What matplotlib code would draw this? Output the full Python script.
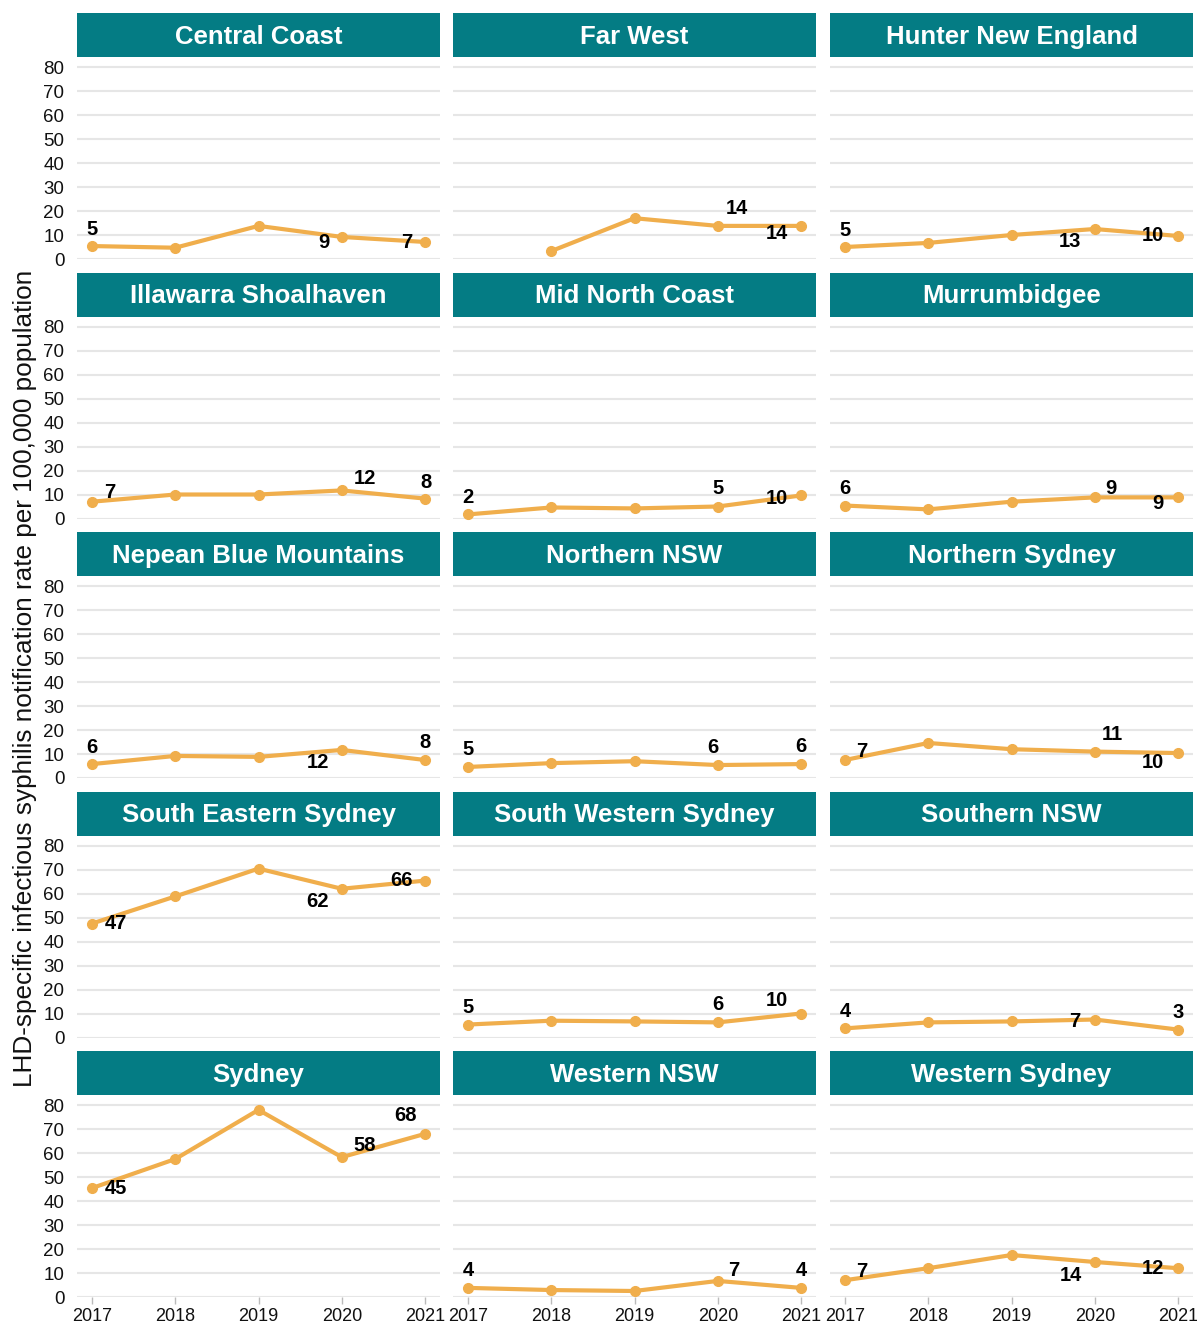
import matplotlib.pyplot as plt
import numpy as np

plt.rcParams['font.family'] = ['Liberation Sans', 'DejaVu Sans']

years = [2017, 2018, 2019, 2020, 2021]

regions = ['Central Coast', 'Far West', 'Hunter New England',
           'Illawarra Shoalhaven', 'Mid North Coast', 'Murrumbidgee',
           'Nepean Blue Mountains', 'Northern NSW', 'Northern Sydney',
           'South Eastern Sydney', 'South Western Sydney', 'Southern NSW',
           'Sydney', 'Western NSW', 'Western Sydney']

central_coast = [5.4, 4.7, 13.8, 9.2, 7.1]
far_west = [np.nan, 3.3, 17.0, 13.8, 13.8]
hunter_new_england = [5.0, 6.7, 10.0, 12.5, 9.6]
illawarra_shoalhaven = [7.0, 10.0, 10.0, 11.7, 8.3]
mid_north_coast = [1.7, 4.6, 4.2, 5.0, 9.6]
murrumbidgee = [5.4, 3.8, 7.0, 8.8, 8.8]
nepean_blue_mountains = [5.8, 9.2, 8.8, 11.7, 7.5]
northern_nsw = [4.6, 6.2, 7.0, 5.4, 5.8]
northern_sydney = [7.5, 14.6, 12.0, 11.0, 10.4]
south_eastern_sydney = [47.5, 58.8, 70.4, 62.0, 65.4]
south_western_sydney = [5.4, 7.0, 6.7, 6.3, 10.0]
southern_nsw = [3.8, 6.3, 6.7, 7.5, 3.3]
sydney = [45.4, 57.5, 78.0, 58.3, 68.0]
western_nsw = [3.8, 2.9, 2.5, 6.7, 3.8]
western_sydney = [7.0, 12.0, 17.5, 14.6, 12.0]

rates = [central_coast, far_west, hunter_new_england,
         illawarra_shoalhaven, mid_north_coast, murrumbidgee,
         nepean_blue_mountains, northern_nsw, northern_sydney,
         south_eastern_sydney, south_western_sydney, southern_nsw,
         sydney, western_nsw, western_sydney]

# value labels shown in the picture: (year, text)
labels = [
    [(2017, '5'), (2020, '9'), (2021, '7')],
    [(2020, '14'), (2021, '14')],
    [(2017, '5'), (2020, '13'), (2021, '10')],
    [(2017, '7'), (2020, '12'), (2021, '8')],
    [(2017, '2'), (2020, '5'), (2021, '10')],
    [(2017, '6'), (2020, '9'), (2021, '9')],
    [(2017, '6'), (2020, '12'), (2021, '8')],
    [(2017, '5'), (2020, '6'), (2021, '6')],
    [(2017, '7'), (2020, '11'), (2021, '10')],
    [(2017, '47'), (2020, '62'), (2021, '66')],
    [(2017, '5'), (2020, '6'), (2021, '10')],
    [(2017, '4'), (2020, '7'), (2021, '3')],
    [(2017, '45'), (2020, '58'), (2021, '68')],
    [(2017, '4'), (2020, '7'), (2021, '4')],
    [(2017, '7'), (2020, '14'), (2021, '12')],
]

# pixel offsets of each label from its point (dx right, dy down)
label_offsets = [
    [(0, -17), (-18, 6), (-18, 1)],
    [(19, -17), (-24, 8)],
    [(0, -17), (-25, 12), (-25, 0)],
    [(18, -9), (23, -12), (1, -16)],
    [(0, -17), (0, -18), (-24, 3)],
    [(0, -17), (16, -9), (-20, 6)],
    [(0, -17), (-24, 13), (0, -18)],
    [(0, -17), (-5, -18), (0, -18)],
    [(17, -9), (18, -17), (-25, 9)],
    [(24, 0), (-24, 13), (-24, 0)],
    [(0, -17), (0, -18), (-24, -13)],
    [(0, -17), (-20, 2), (0, -17)],
    [(24, 0), (23, -12), (-20, -18)],
    [(0, -17), (16, -10), (0, -17)],
    [(17, -9), (-24, 14), (-25, 0)],
]

teal = '#047C84'
orange = '#F0AE4C'
W, H = 1197, 1321


def fig_rect(left, top, width, height):
    return [left / W, 1 - (top + height) / H, width / W, height / H]


fig = plt.figure(figsize=(W / 100, H / 100), dpi=100)

col_left = [77, 453, 830]
panel_w = 363

for i, name in enumerate(regions):
    r, c = divmod(i, 3)
    left = col_left[c]
    head_top = 13 + 259.5 * r

    hax = fig.add_axes(fig_rect(left, head_top, panel_w, 44))
    hax.set_facecolor(teal)
    hax.set_xticks([])
    hax.set_yticks([])
    for s in hax.spines.values():
        s.set_visible(False)
    hax.text(0.5, 0.46, name, color='white', fontsize=18.5, fontweight='bold',
             ha='center', va='center', transform=hax.transAxes)

    ax = fig.add_axes(fig_rect(left, head_top + 44, panel_w, 202))
    ax.set_xlim(2016.82, 2021.18)
    ax.set_ylim(0, 84.2)
    ax.set_yticks(range(0, 81, 10))
    ax.grid(axis='y', color='#E6E6E6', linewidth=1.5)
    ax.set_axisbelow(True)
    for s in ax.spines.values():
        s.set_visible(False)

    ax.plot(years, rates[i], color=orange, linewidth=3, marker='o',
            markersize=7, clip_on=False, zorder=3)

    for (yr, txt), (dx, dy) in zip(labels[i], label_offsets[i]):
        yv = rates[i][years.index(yr)]
        ax.annotate(txt, (yr, yv), xytext=(dx, -dy), textcoords='offset pixels',
                    ha='center', va='center', fontsize=14.5, fontweight='bold',
                    color='black', zorder=4)

    if c == 0:
        ax.tick_params(axis='y', length=0, labelsize=13.5, pad=9, labelcolor='#111111')
    else:
        ax.tick_params(axis='y', length=0, labelleft=False)

    if r == 4:
        ax.set_xticks(years)
        ax.set_xticklabels([str(y) for y in years])
        ax.tick_params(axis='x', length=5, width=1, color='#BBBBBB',
                       labelsize=13, pad=3, labelcolor='#111111')
    else:
        ax.set_xticks([])

fig.text(25 / W, 1 - 678 / H,
         'LHD-specific infectious syphilis notification rate per 100,000 population',
         rotation=90, ha='center', va='center', fontsize=18.8, color='#111111')

plt.savefig('out.png', dpi=100)
